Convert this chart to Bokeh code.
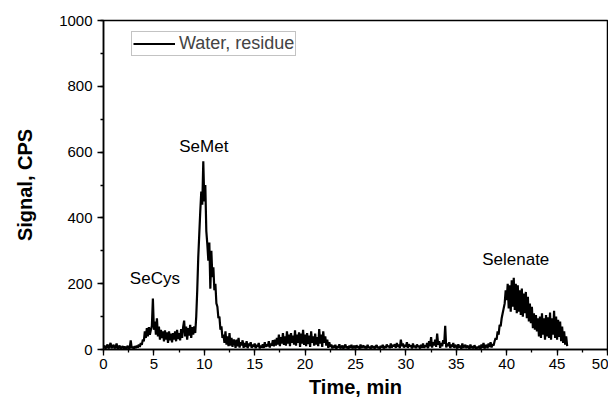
from bokeh.plotting import figure
from bokeh.models import ColumnDataSource, Legend, LegendItem, Label, SingleIntervalTicker, Range1d
from bokeh.embed import file_html
from bokeh.resources import INLINE

# Sampling: one reading every 0.1 min starting at 0.0 min
t_start = 0.0
t_step = 0.1

# Signal (CPS), one row per minute
seg_0_9 = [
    5, 12, 2, 8, 15, 3, 10, 20, 4, 9,
    14, 3, 8, 18, 2, 7, 12, 1, 6, 10,
    3, 9, 2, 6, 11, 1, 5, 28, 4, 8,
    2, 10, 4, 12, 6, 15, 8, 20, 14, 30,
    25, 55, 35, 65, 40, 68, 45, 60, 72, 155,
    60, 85, 45, 95, 40, 70, 30, 60, 35, 55,
    25, 58, 30, 52, 20, 55, 28, 48, 22, 50,
    30, 55, 25, 60, 32, 50, 28, 62, 35, 68,
    88, 40, 70, 30, 65, 42, 75, 35, 68, 45,
]
seg_semet = [
    70, 50, 100, 180, 280, 350, 420, 480, 440, 572,
    450, 500, 360, 320, 270, 325, 185, 300, 220, 250,
    180, 200, 140, 130, 95, 100, 60, 70, 35, 45,
]
seg_12_38 = [
    20, 55, 15, 40, 10, 50, 12, 35, 8, 30,
    25, 5, 30, 10, 35, 6, 22, 12, 28, 5,
    20, 8, 25, 4, 18, 10, 22, 5, 15, 8,
    18, 4, 14, 8, 20, 3, 12, 6, 16, 5,
    22, 8, 15, 10, 25, 6, 18, 12, 28, 10,
    30, 12, 35, 15, 45, 10, 38, 18, 50, 14,
    40, 12, 55, 18, 45, 10, 50, 20, 42, 15,
    58, 12, 45, 20, 52, 8, 48, 18, 60, 14,
    45, 10, 50, 16, 42, 8, 55, 20, 40, 12,
    48, 15, 38, 10, 62, 18, 45, 8, 55, 20,
    40, 12, 30, 5, 22, 8, 15, 3, 12, 5,
    14, 2, 10, 6, 16, 3, 8, 12, 2, 10,
    15, 4, 9, 2, 12, 5, 14, 3, 8, 11,
    3, 13, 6, 10, 2, 15, 5, 9, 12, 4,
    10, 3, 14, 6, 8, 2, 12, 5, 10, 3,
    9, 13, 4, 8, 2, 11, 6, 14, 3, 10,
    5, 15, 8, 12, 4, 18, 6, 14, 9, 16,
    5, 20, 8, 15, 4, 30, 10, 18, 6, 14,
    8, 22, 5, 16, 10, 12, 3, 18, 7, 12,
    4, 15, 8, 11, 3, 14, 6, 18, 5, 12,
    8, 20, 4, 25, 10, 38, 6, 22, 12, 30,
    8, 48, 15, 25, 5, 20, 10, 28, 18, 72,
    6, 18, 10, 22, 4, 15, 8, 20, 5, 14,
    10, 3, 16, 6, 12, 2, 18, 5, 10, 14,
    4, 12, 8, 2, 15, 5, 10, 3, 13, 6,
    2, 8, 4, 12, 1, 15, 6, 20, 3, 10,
]
seg_selenate = [
    14, 4, 18, 8, 22, 6, 16, 12, 25, 35,
    30, 55, 45, 75, 70, 95, 110, 125, 140, 180,
    150, 200, 125, 195, 115, 210, 130, 218, 120, 200,
    110, 195, 115, 180, 105, 185, 100, 170, 110, 175,
    95, 160, 85, 140, 80, 130, 65, 110, 60, 105,
    55, 95, 40, 100, 35, 110, 45, 95, 30, 105,
    40, 98, 35, 112, 30, 95, 45, 118, 35, 100,
    30, 90, 38, 85, 25, 70, 20, 55, 15, 40,
    10,
]

signal_cps = seg_0_9 + seg_semet + seg_12_38 + seg_selenate
time_min = [round(t_start + i * t_step, 1) for i in range(len(signal_cps))]

series_name = "Water, residue"
peak_names = ["SeCys", "SeMet", "Selenate"]
peak_label_x = [5.1, 9.95, 40.9]
peak_label_y = [217, 617, 274]

FONT = "Liberation Sans"

p = figure(width=608, height=403, output_backend="svg", toolbar_location=None,
           x_range=Range1d(0, 50), y_range=Range1d(0, 1000),
           min_border_left=103, min_border_right=1, min_border_top=20, min_border_bottom=54)
p.background_fill_color = "white"
p.border_fill_color = "white"
p.outline_line_color = "black"
p.outline_line_width = 1.5
p.xgrid.visible = False
p.ygrid.visible = False

src = ColumnDataSource(dict(t=time_min, s=signal_cps))
r = p.line("t", "s", source=src, line_color="black", line_width=2.2)

p.xaxis.ticker = SingleIntervalTicker(interval=5, num_minor_ticks=2)
p.yaxis.ticker = SingleIntervalTicker(interval=200, num_minor_ticks=2)
for ax in (p.xaxis[0], p.yaxis[0]):
    ax.axis_line_width = 1.5
    ax.major_tick_line_width = 1.3
    ax.minor_tick_line_width = 1.3
    ax.major_tick_out = 6
    ax.major_tick_in = 0
    ax.minor_tick_out = 3
    ax.minor_tick_in = 0
    ax.major_label_text_font = FONT
    ax.major_label_text_font_size = "15px"
    ax.major_label_text_color = "black"
    ax.axis_label_text_font = FONT
    ax.axis_label_text_font_style = "bold"
    ax.axis_label_text_font_size = "20px"
    ax.axis_label_text_color = "black"
    ax.major_label_standoff = 5

p.xaxis.major_label_standoff = 3
p.xaxis.axis_label = "Time, min"
p.yaxis.axis_label = "Signal, CPS"
p.xaxis.axis_label_standoff = 4
p.yaxis.axis_label_standoff = 20

for name, lx, ly in zip(peak_names, peak_label_x, peak_label_y):
    p.add_layout(Label(x=lx, y=ly, text=name, text_align="center", text_baseline="middle",
                       text_font=FONT, text_font_size="17px", text_color="black"))

legend = Legend(items=[LegendItem(label=series_name, renderers=[r])],
                location=(28, 293), padding=1, margin=0, spacing=0,
                glyph_width=42, glyph_height=17, label_height=17, label_standoff=4,
                label_text_font=FONT, label_text_font_size="18px",
                border_line_color="#888888", border_line_width=1,
                background_fill_alpha=1.0)
p.add_layout(legend, "center")

open("out.html", "w").write(file_html(p, INLINE))
